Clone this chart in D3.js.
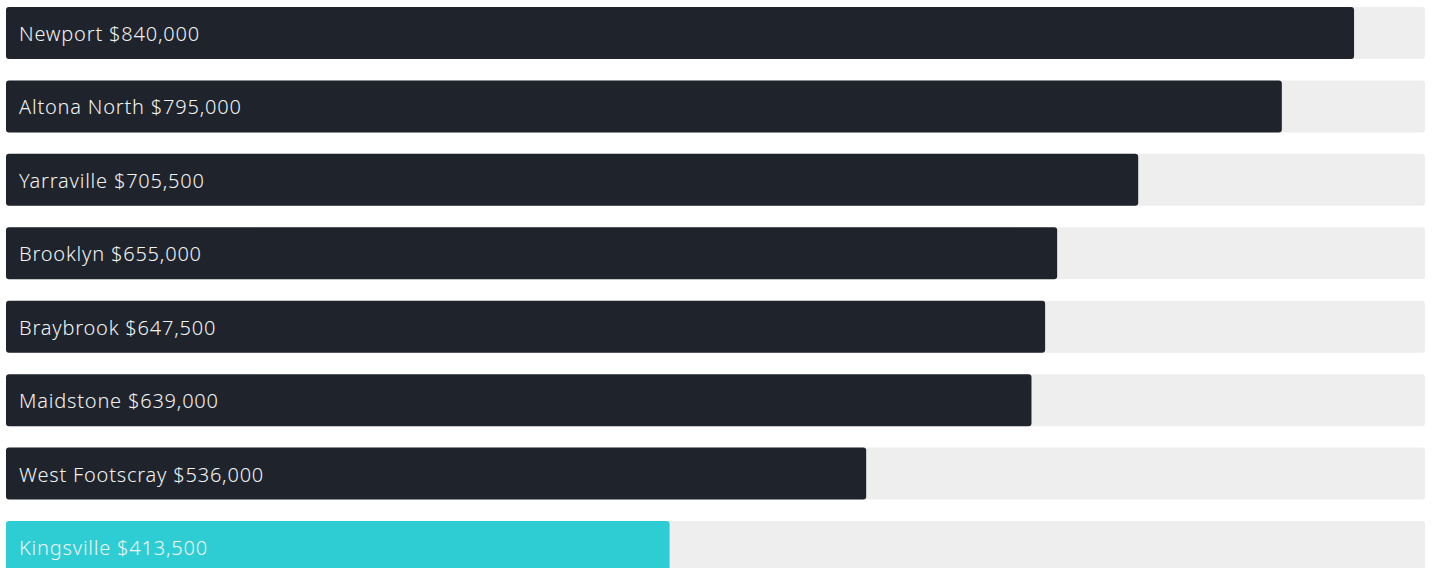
<!DOCTYPE html>
<html>
<head>
<meta charset="utf-8">
<script src="https://cdn.jsdelivr.net/npm/d3@7"></script>
<style>
  body { margin: 0; background: #fff; }
  svg { display: block; }
  .lbl { font-family: "Noto Sans", sans-serif; font-size: 20px; font-weight: 300;
         letter-spacing: 0.8px; fill: #f2f2f2; }
</style>
</head>
<body>
<svg id="chart"></svg>
<script>
// suburbs and median prices
const suburbs = ["Newport", "Altona North", "Yarraville", "Brooklyn", "Braybrook",
                 "Maidstone", "West Footscray", "Kingsville"];
const prices = [840000, 795000, 705500, 655000, 647500, 639000, 536000, 413500];
const highlight = ["Kingsville"];

function priceBars() {
    const width = 1433,
          height = 568,
          left = 6,
          right = 1425;

    const data = suburbs.map((s, i) => ({ name: s, value: prices[i] }));

    const x = d3.scaleLinear()
        .domain([0, d3.max(prices) / 0.95])
        .range([left, right]);

    const y = d3.scaleBand()
        .domain(suburbs)
        .range([7, 573])
        .paddingInner(0.292)
        .paddingOuter(0);

    const fmt = d3.format("$,");

    const svg = d3.select("#chart")
        .attr("width", width)
        .attr("height", height);

    const row = svg.selectAll("g.row")
        .data(data)
        .join("g")
        .attr("class", "row")
        .attr("transform", d => `translate(0,${y(d.name)})`);

    // background track
    row.append("rect")
        .attr("x", x(0))
        .attr("width", x.range()[1] - x(0))
        .attr("height", y.bandwidth())
        .attr("rx", 3)
        .attr("fill", "#eeeeee");

    // value bar
    row.append("rect")
        .attr("x", x(0))
        .attr("width", d => x(d.value) - x(0))
        .attr("height", y.bandwidth())
        .attr("rx", 3)
        .attr("fill", d => highlight.includes(d.name) ? "#2ecdd3" : "#1f242c");

    row.append("text")
        .attr("class", "lbl")
        .attr("x", 19)
        .attr("y", y.bandwidth() / 2 + 1)
        .attr("dy", "0.35em")
        .text(d => d.name + " " + fmt(d.value));
}

priceBars();
</script>
</body>
</html>
